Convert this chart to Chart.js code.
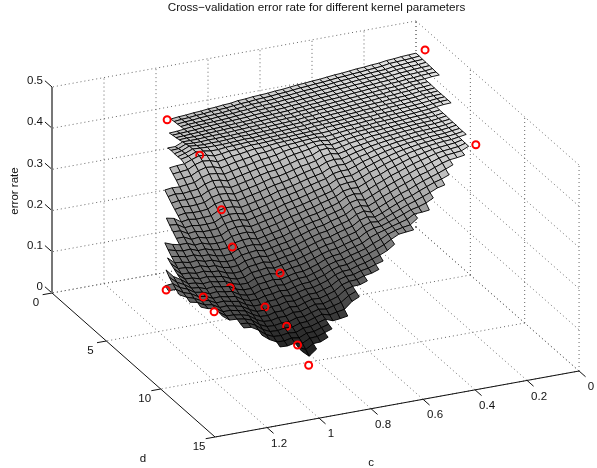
<!DOCTYPE html>
<html>
<head>
<meta charset="utf-8">
<title>Cross-validation error rate</title>
<script src="https://cdn.jsdelivr.net/npm/chart.js@4/dist/chart.umd.min.js"></script>
<style>
html, body { margin: 0; padding: 0; background: #fff; }
canvas { display: block; }
</style>
</head>
<body>
<canvas id="chart" width="597" height="468"></canvas>
<script>
// grid of the interpolated surface
const cValues = [0,.029,.057,.086,.114,.143,.171,.2,.229,.257,.286,.314,.343,.371,.4,.429,.457,.486,.514,.543,.571,.6,.629,.657,.686,.714,.743,.771,.8,.829,.857,.886,.914,.943,.971,1,1.029,1.057,1.086,1.114,1.143,1.171,1.2,1.229,1.257,1.286,1.314,1.343,1.371,1.4];
const dValues = [0,.306,.612,.918,1.224,1.531,1.837,2.143,2.449,2.755,3.061,3.367,3.673,3.98,4.286,4.592,4.898,5.204,5.51,5.816,6.122,6.429,6.735,7.041,7.347,7.653,7.959,8.265,8.571,8.878,9.184,9.49,9.796,10.102,10.408,10.714,11.02,11.327,11.633,11.939,12.245,12.551,12.857,13.163,13.469,13.776,14.082,14.388,14.694,15];

// first d index that each c column has a value for
const colStart = [0,0,0,0,0,0,0,0,0,0,0,0,0,0,0,0,0,0,0,0,0,0,0,0,0,0,0,0,0,0,0,0,0,0,4,4,8,8,13,13,16,16,21,21,25,25,28,32,32,34];

// error rate in thousandths, one list per c column
const errorRate = [
  [422,422,421,421,420,420,419,419],
  [421,420,420,419,419,418,418,418],
  [420,419,419,418,418,417,417,416,416,416,415,415,415,415,415,415],
  [418,418,417,417,416,416,415,415,415,414,414,414,414,414,414,414],
  [417,417,416,416,415,415,414,414,414,413,413,413,413,412,412,412,411,411,411,410,410,410,409,409,409],
  [414,414,413,413,413,412,412,412,411,411,411,410,410,410,409,409,409,408,408,408,407,407,407,406,406,406,405,405],
  [413,412,412,412,411,411,411,410,410,410,409,409,409,408,408,408,407,407,406,406,405,405,404,404,403,402,400,397,394],
  [411,411,411,410,410,410,409,409,409,408,408,408,407,407,407,406,406,406,405,405,404,404,403,403,402,400,398,395,391],
  [410,409,409,409,409,408,408,408,407,407,407,406,406,406,405,405,405,404,404,404,403,403,402,401,400,398,396,393,389,384],
  [408,408,408,408,407,407,407,406,406,406,405,405,405,404,404,404,403,403,403,402,402,401,400,399,398,396,393,389,384,377,370],
  [406,406,406,406,406,405,405,405,405,404,404,404,403,403,403,402,402,402,401,401,400,399,398,397,395,392,388,383,377,370,363,356],
  [405,405,405,404,404,404,404,403,403,403,403,402,402,402,401,401,401,400,400,399,398,397,396,394,392,388,383,377,370,364,358,352],
  [403,403,403,403,403,402,402,402,402,401,401,401,401,400,400,400,399,399,398,397,396,395,393,391,388,384,378,372,365,358,351,344,338],
  [401,401,401,401,401,401,400,400,400,400,400,399,399,399,399,398,398,397,396,395,394,392,390,387,383,378,372,365,358,351,344,337,329,319],
  [400,400,400,400,399,399,399,399,399,398,398,398,398,398,397,397,396,396,395,393,391,389,386,382,378,372,365,358,351,343,336,330,323,317],
  [398,398,398,398,398,398,398,397,397,397,397,397,396,396,396,395,395,394,392,390,388,385,381,377,372,366,359,351,344,337,330,324,319,316,313],
  [397,397,397,397,396,396,396,396,396,396,396,395,395,395,395,394,393,392,390,387,384,380,376,371,365,358,351,344,336,329,323,317,312,306,300,295],
  [395,395,395,395,395,395,395,395,395,395,394,394,394,394,393,392,391,389,387,384,380,376,371,365,359,352,344,336,329,321,315,310,305,301,297,293],
  [393,393,393,393,393,393,393,393,393,393,393,393,393,393,391,390,388,386,383,379,375,370,364,358,351,344,336,328,320,313,307,303,299,296,293,291],
  [392,392,392,392,392,392,392,392,392,392,392,392,392,391,390,388,386,383,379,375,370,364,358,351,344,336,328,320,312,305,300,296,293,290,287,282,277],
  [390,390,390,390,390,390,390,390,390,390,390,390,390,390,390,390,389,387,385,379,372,365,358,351,344,337,331,324,317,311,304,298,291,285,278,272,265],
  [389,389,389,389,389,389,389,389,389,389,389,389,389,389,389,389,389,387,383,376,369,362,355,348,341,334,327,320,313,306,299,292,285,278,271,264,257,250],
  [388,388,388,388,388,388,388,388,388,388,388,388,388,388,388,388,386,382,375,368,361,353,346,339,331,324,317,309,302,295,288,281,274,268,262,257,251,245,240],
  [386,386,387,387,387,387,387,387,387,387,387,387,387,387,387,386,384,379,372,364,357,349,342,334,326,319,311,304,297,290,283,276,269,263,257,251,245,239,234],
  [385,385,385,385,386,386,386,386,386,386,386,386,386,386,386,385,382,376,369,361,353,345,337,329,321,314,306,299,292,285,278,271,264,258,252,246,241,236,231,226],
  [382,383,383,384,384,384,384,385,385,385,385,385,385,385,385,383,379,372,364,356,348,340,332,324,316,308,300,293,286,279,272,265,258,252,246,240,235,230,225,220],
  [381,381,382,382,383,383,383,384,384,384,384,384,384,384,383,380,374,367,359,351,343,335,327,319,311,304,297,290,283,276,269,262,256,250,244,239,234,229,224,219,214,208],
  [379,380,380,381,381,382,382,382,383,383,383,383,383,383,381,377,371,363,355,347,339,331,323,315,307,299,292,285,278,271,264,257,251,245,239,234,229,224,219,214,207,200],
  [378,379,379,380,380,381,381,382,382,382,383,383,383,383,381,376,369,361,353,345,336,328,319,311,303,295,287,280,272,265,258,251,244,237,231,225,219,213,207,201,194,184,175],
  [376,377,378,378,379,380,380,381,381,381,382,382,382,381,378,372,365,357,349,340,331,322,314,305,297,289,281,274,266,259,252,245,238,231,225,219,213,207,201,195,189,181,172],
  [375,376,377,377,378,379,379,380,380,381,381,381,381,379,375,369,361,353,344,335,326,317,309,300,292,284,276,268,261,254,247,240,233,226,220,214,208,202,196,190,184,177,170],
  [373,374,375,376,377,378,378,379,380,380,380,380,380,378,373,366,358,349,340,331,322,313,304,296,288,280,272,265,258,251,244,237,231,225,219,213,207,202,197,192,187,182,177,172,168],
  [372,373,374,375,376,376,377,378,379,380,380,380,378,375,369,362,354,345,336,327,318,309,300,292,284,276,268,261,254,247,240,233,227,221,215,209,203,197,192,187,182,177,172,167,162,158],
  [370,371,372,373,374,375,376,377,378,379,379,380,378,373,366,358,350,341,332,323,314,305,296,288,280,272,264,257,250,243,236,229,222,216,210,204,198,192,186,181,176,171,166,161,156,150],
  [372,374,375,377,378,379,380,381,381,378,372,364,355,346,337,328,319,310,301,293,285,277,269,261,254,247,240,233,226,219,212,206,200,194,188,182,176,170,165,160,155,149,143],
  [371,373,374,376,378,380,382,382,382,380,374,366,357,348,339,329,320,311,302,293,285,276,268,260,252,245,237,230,223,216,209,202,195,189,182,176,170,164,158,152,146,138,129],
  [370,372,374,375,375,374,369,361,352,343,334,325,316,307,298,290,281,273,265,257,249,242,235,228,221,214,207,200,194,188,182,176,170,165,160,155,150,147,145],
  [370,371,370,370,371,367,360,352,343,334,325,316,307,298,289,281,272,264,256,248,241,234,227,220,213,207,201,195,189,183,177,172,167,162,157,151,146],
  [366,358,350,341,332,323,314,305,297,288,280,271,263,255,247,240,233,226,219,213,207,201,195,189,183,178,173,168,163,158,152,147],
  [364,356,348,339,330,322,313,305,296,288,280,272,264,257,250,243,236,230,224,218,212,206,201,196,191,186,181,176,171,166,161],
  [340,332,323,315,307,299,291,284,277,270,263,256,250,244,238,232,227,222,217,212,207,202,198,194,190,185,180,175],
  [338,329,320,312,304,296,289,282,275,268,262,256,250,244,239,234,229,224,219,214,210,206,202,199,196,193,190],
  [308,300,292,284,276,269,262,256,250,244,238,233,228,223,218,214,210,206,202,199,195,192],
  [312,302,293,284,276,268,261,254,248,242,236,231,226,221,217,213,209,206,203,200],
  [280,272,265,258,252,246,241,236,232,228,225,222,219,217,215,213],
  [287,277,268,260,253,247,242,238,234,231,228,225,222,220],
  [275,268,262,256,251,246,242,238,234,231,227],
  [262,255,249,244,240,235],
  [281,270,262,255,249],
  [260,255]
];

// the measured parameter sets (red circles)
const markC = [0.978,0.007,0.167,1.02,1.02,1.02,0.92,1.07,1.40,1.32,1.32,1.02,1.02,1.02,1.04];
const markD = [0.5,1,9.5,4.5,6.5,7.5,9.5,8.5,10.5,12,13,10.5,12.5,13.5,15];
const markErr = [0.384,0.454,0.44,0.396,0.31,0.243,0.215,0.173,0.252,0.261,0.248,0.167,0.167,0.145,0.133];
// 1 = circle sits clear of the surface, 0 = partly sunk into it
const markClear = [1,1,1,0,1,1,0,0,1,1,1,0,0,1,1];

// axes
const cTicks = [0,0.2,0.4,0.6,0.8,1,1.2];
const dTicks = [0,5,10,15];
const zTicks = [0,0.1,0.2,0.3,0.4,0.5];
const cMax = 1.4, dMax = 15, zMax = 0.5;

// fixed view of the 3d box, orthographic
function project(c, d, z) {
  return {
    x: 52 + (cMax - c) * 260 + d * 10.87,
    y: 293 - (cMax - c) * 47.14 + d * 9.6 - z * 412
  };
}
function depth(c, d, z) {
  return 151 * c / cMax + 330 * d / dMax + 90 * z / zMax;
}
function grayFor(z) {
  const g = Math.max(0, Math.min(255, Math.round(17 + 690 * (z - 0.116))));
  return "rgb(" + g + "," + g + "," + g + ")";
}

function line3d(from, to, color, width, dash) {
  return {
    data: [project(from[0], from[1], from[2]), project(to[0], to[1], to[2])],
    showLine: true, pointRadius: 0, fill: false,
    borderColor: color, borderWidth: width, borderDash: dash || []
  };
}

const dot = [1, 3];
const dotColor = "#666";
let boxLines = [];
cTicks.concat([cMax]).forEach(function (c) {
  if (c != cMax) boxLines.push(line3d([c, 0, 0], [c, dMax, 0], dotColor, 1, dot));
  boxLines.push(line3d([c, 0, 0], [c, 0, zMax], dotColor, 1, dot));
});
dTicks.forEach(function (d) {
  boxLines.push(line3d([0, d, 0], [cMax, d, 0], dotColor, 1, dot));
  boxLines.push(line3d([0, d, 0], [0, d, zMax], dotColor, 1, dot));
});
zTicks.forEach(function (z) {
  boxLines.push(line3d([0, 0, z], [cMax, 0, z], dotColor, 1, dot));
  boxLines.push(line3d([0, 0, z], [0, dMax, z], dotColor, 1, dot));
});

let axisLines = [];
axisLines.push(line3d([cMax, 0, 0], [cMax, 0, zMax], "#777", 2));
axisLines.push(line3d([cMax, 0, 0], [cMax, dMax, 0], "#111", 1));
axisLines.push(line3d([cMax, dMax, 0], [0, dMax, 0], "#111", 1));
zTicks.forEach(function (z) {
  axisLines.push(line3d([cMax, 0, z], [cMax, -0.65, z], "#111", 1));
});
dTicks.forEach(function (d) {
  axisLines.push(line3d([cMax, d, 0], [cMax + 0.036, d, 0], "#111", 1));
});
cTicks.forEach(function (c) {
  axisLines.push(line3d([c, dMax, 0], [c, dMax + 0.6, 0], "#111", 1));
});

// surface cells and circles go together so they hide each other by depth
let pieces = [];
for (let i = 0; i < cValues.length - 1; i++) {
  for (let j = 0; j < dValues.length - 1; j++) {
    const a = errorRate[i][j - colStart[i]];
    const b = errorRate[i][j + 1 - colStart[i]];
    const e = errorRate[i + 1][j - colStart[i + 1]];
    const f = errorRate[i + 1][j + 1 - colStart[i + 1]];
    if (a === undefined || b === undefined || e === undefined || f === undefined) continue;
    const mean = (a + b + e + f) / 4000;
    const cMid = (cValues[i] + cValues[i + 1]) / 2;
    const dMid = (dValues[j] + dValues[j + 1]) / 2;
    pieces.push({
      z: depth(cMid, dMid, mean),
      mid: project(cMid, dMid, mean),
      set: {
        data: [
          project(cValues[i], dValues[j], a / 1000),
          project(cValues[i], dValues[j + 1], b / 1000),
          project(cValues[i + 1], dValues[j + 1], f / 1000),
          project(cValues[i + 1], dValues[j], e / 1000),
          project(cValues[i], dValues[j], a / 1000)
        ],
        showLine: true, pointRadius: 0, fill: "shape",
        backgroundColor: grayFor(mean),
        borderColor: "#000", borderWidth: 0.9
      }
    });
  }
}
const cells = pieces.slice();
markC.forEach(function (c, k) {
  const at = project(c, markD[k], markErr[k]);
  let z = 9999;
  if (!markClear[k]) {
    // sink it to the depth of the cell it is drawn over
    let best = 1e9;
    cells.forEach(function (cell) {
      const dist = Math.pow(cell.mid.x - at.x, 2) + Math.pow(cell.mid.y - at.y, 2);
      if (dist < best) { best = dist; z = cell.z + 8; }
    });
  }
  pieces.push({
    z: z,
    set: {
      data: [at],
      showLine: false, pointRadius: 3.5, pointBorderWidth: 2,
      pointBackgroundColor: "rgba(0,0,0,0)", pointBorderColor: "#f00"
    }
  });
});
// chart.js paints the first dataset last, so nearest comes first
pieces.sort(function (p, q) { return q.z - p.z; });

const axisText = {
  id: "axisText",
  afterDraw(chart) {
    const ctx = chart.ctx;
    const sx = chart.scales.x, sy = chart.scales.y;
    function put(txt, c, d, z, dx, dy, align) {
      const p = project(c, d, z);
      ctx.textAlign = align || "center";
      ctx.fillText(txt, sx.getPixelForValue(p.x) + dx, sy.getPixelForValue(p.y) + dy);
    }
    ctx.save();
    ctx.font = "11.5px 'Liberation Sans'";
    ctx.fillStyle = "#111";
    ctx.textBaseline = "middle";
    zTicks.forEach(function (z) { put(String(z), cMax, 0, z, -9, -6, "right"); });
    dTicks.forEach(function (d) { put(String(d), cMax, d, 0, -16, 10); });
    cTicks.forEach(function (c) { put(String(c), c, dMax, 0, 12, 16); });
    put("d", cMax, dMax, 0, -72, 22);
    put("c", 0.8, dMax, 0, 0, 54);
    ctx.save();
    ctx.translate(15, 191);
    ctx.rotate(-Math.PI / 2);
    ctx.textAlign = "center";
    ctx.fillText("error rate", 0, 0);
    ctx.restore();
    ctx.restore();
  }
};

new Chart(document.getElementById("chart"), {
  type: "scatter",
  data: { datasets: pieces.map(function (p) { return p.set; }).concat(axisLines, boxLines) },
  options: {
    responsive: false,
    animation: false,
    events: [],
    layout: { padding: { left: 36 }, autoPadding: false },
    scales: {
      x: { type: "linear", display: false, min: 36, max: 597 },
      y: { type: "linear", display: false, min: 16, max: 468, reverse: true }
    },
    plugins: {
      legend: { display: false },
      tooltip: { enabled: false },
      title: {
        display: true,
        text: "Cross\u2212validation error rate for different kernel parameters",
        color: "#111",
        font: { family: "'Liberation Sans'", size: 11.7, weight: "normal", lineHeight: 1 },
        padding: { top: 2, bottom: 2.3 }
      }
    }
  },
  plugins: [axisText]
});
</script>
</body>
</html>
